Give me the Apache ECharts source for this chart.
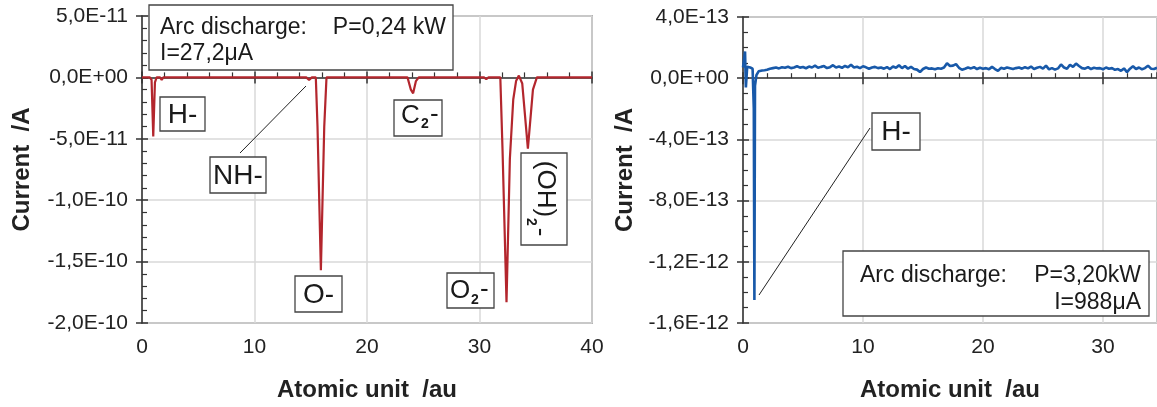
<!DOCTYPE html>
<html>
<head>
<meta charset="utf-8">
<script src="https://cdn.jsdelivr.net/npm/echarts@6/dist/echarts.min.js"></script>
<style>
html,body{margin:0;padding:0;background:#fff}
#main{width:1157px;height:407px}
</style>
</head>
<body>
<div id="main"></div>
<script>
// left spectrum, P=0,24 kW (current in 1E-12 A)
var leftX = [0, 0.7, 0.85, 1.0, 1.15, 1.3, 1.6, 1.75, 1.9, 5, 10, 14.6, 14.85, 15.1,
	15.45, 15.6, 15.9, 16.2, 16.4, 23.6, 23.9, 24.1, 24.35, 24.6, 30.4, 30.6, 30.8,
	31.85, 32.05, 32.4, 32.7, 33.0, 33.25, 33.5, 33.8, 34.3, 34.75, 35.1, 40];
var leftY = [0, 0, -2, -48, -4, 0, 0, -2, 0, 0, 0, 0, -2, 0,
	0, -40, -157, -40, 0, 0, -10, -13, -3, 0, 0, -1.5, 0,
	0, -60, -183, -66, -18, -3, 1.5, -5, -58, -10, 0, 0];

// right spectrum, P=3,20 kW (current in 1E-13 A)
var rightHeadX = [0, 0.1, 0.17, 0.24, 0.35, 0.6, 0.8, 0.9, 0.95, 1.0, 1.12, 1.3, 1.6, 1.8];
var rightHeadY = [0.7, 0.8, 1.75, -0.6, 0.75, 0.7, 0.62, -2, -14.5, -0.5, 0.2, 0.45, 0.5, 0.52];
var baseStart = 2, baseStep = 0.25;
var rightBaseY = [
	0.55, 0.62, 0.66, 0.7, 0.64, 0.72, 0.68, 0.75, 0.66, 0.7, 0.78, 0.69,
	0.73, 0.65, 0.76, 0.7, 0.82, 0.68, 0.74, 0.79, 0.66, 0.72, 0.85, 0.7,
	0.76, 0.68, 0.8, 0.72, 0.88, 0.7, 0.75, 0.66, 0.78, 0.71, 0.62, 0.7,
	0.74, 0.66, 0.7, 0.62, 0.72, 0.6, 0.76, 0.68, 0.85, 0.66, 0.8, 0.62,
	0.74, 0.6, 0.56, 0.4, 0.6, 0.7, 0.62, 0.64, 0.58, 0.65, 0.62, 0.7,
	0.98, 0.8, 0.82, 0.92, 0.68, 0.55, 0.62, 0.7, 0.64, 0.72, 0.6, 0.68,
	0.62, 0.66, 0.58, 0.74, 0.6, 0.48, 0.68, 0.62, 0.7, 0.65, 0.6, 0.66,
	0.7, 0.62, 0.72, 0.64, 0.76, 0.6, 0.68, 0.74, 0.62, 0.82, 0.58, 0.66,
	0.56, 0.64, 0.9, 0.7, 0.62, 0.88, 0.74, 0.96, 0.8, 0.66, 0.62, 0.72,
	0.6, 0.68, 0.64, 0.66, 0.58, 0.7, 0.62, 0.66, 0.55, 0.6, 0.48, 0.64,
	0.4, 0.62, 0.78, 0.6, 0.7, 0.58, 0.66, 0.82, 0.62, 0.6, 0.68
];

var FONT = '"Liberation Sans", Arial, sans-serif';
var AXIS = '#333';

var leftData = leftX.map(function(x, i) { return [x, leftY[i]]; });
var rightData = rightHeadX.map(function(x, i) { return [x, rightHeadY[i]]; });
rightBaseY.forEach(function(v, i) { rightData.push([baseStart + i * baseStep, v]); });

function sci(unit) {
	return function(v) {
		if (Math.abs(v) < 1e-9) return '0,0E+00';
		var p = (v * unit).toExponential(1).split('e');
		var e = parseInt(p[1], 10);
		return p[0].replace('.', ',') + 'E' + (e < 0 ? '-' : '+') + (Math.abs(e) < 10 ? '0' : '') + Math.abs(e);
	};
}

function xMain(g, max) {
	return {
		type: 'value', gridIndex: g, min: 0, max: max, interval: 10, position: 'bottom',
		name: 'Atomic unit  /au', nameLocation: 'middle', nameGap: 55,
		nameTextStyle: { fontFamily: FONT, fontSize: 24, fontWeight: 'bold', color: '#222' },
		axisLine: { lineStyle: { color: AXIS, width: 1.5 } },
		axisTick: { length: 6, lineStyle: { color: AXIS, width: 1.5 } },
		axisLabel: { fontFamily: FONT, fontSize: 21, color: '#222', margin: 14, showMaxLabel: max % 10 == 0 },
		splitLine: { lineStyle: { color: '#d8d8d8', width: 1.5 } }
	};
}
function xOver(g, max) {
	return {
		type: 'value', gridIndex: g, min: 0, max: max, interval: 10, position: 'bottom',
		axisLine: { show: false },
		axisTick: { inside: true, length: 6, lineStyle: { color: AXIS, width: 1.5 } },
		minorTick: { show: true, splitNumber: 5, length: 5, lineStyle: { color: AXIS, width: 1.2 } },
		axisLabel: { show: false }, splitLine: { show: false }
	};
}
function yMain(g, min, max, step, unit, gap) {
	return {
		type: 'value', gridIndex: g, min: min, max: max, interval: step, position: 'left',
		name: 'Current  /A', nameLocation: 'middle', nameGap: gap,
		nameTextStyle: { fontFamily: FONT, fontSize: 24, fontWeight: 'bold', color: '#222' },
		axisLine: { show: true, lineStyle: { color: AXIS, width: 1.5 } },
		axisTick: { show: true, length: 6, lineStyle: { color: AXIS, width: 1.5 } },
		axisLabel: { fontFamily: FONT, fontSize: 21, color: '#222', margin: 14, formatter: sci(unit) },
		splitLine: { lineStyle: { color: '#d8d8d8', width: 1.5 } }
	};
}
function yOver(g, min, max, step, minor) {
	return {
		type: 'value', gridIndex: g, min: min, max: max, interval: step, position: 'left',
		axisLine: { show: false },
		axisTick: { show: true, inside: true, length: 6, lineStyle: { color: AXIS, width: 1.5 } },
		minorTick: { show: true, splitNumber: minor, length: 5, lineStyle: { color: AXIS, width: 1.2 } },
		axisLabel: { show: false }, splitLine: { show: false }
	};
}

function box(x, y, w, h) {
	return { type: 'rect', shape: { x: x, y: y, width: w, height: h }, z: 100,
		style: { fill: '#fff', stroke: '#444', lineWidth: 1.3 } };
}
function txt(x, y, s, size, align, rot, bold) {
	return { type: 'text', x: x, y: y, rotation: rot || 0, z: 101,
		style: { text: s, fontFamily: FONT, fontSize: size, fill: '#1a1a1a',
			fontWeight: bold ? 'bold' : 'normal',
			textAlign: align || 'left', align: align || 'left',
			textVerticalAlign: 'middle', verticalAlign: 'middle' } };
}
function line(x1, y1, x2, y2) {
	return { type: 'line', shape: { x1: x1, y1: y1, x2: x2, y2: y2 }, z: 99,
		style: { stroke: '#222', lineWidth: 1 } };
}

var myChart = echarts.init(document.getElementById('main'));

var option = {
	backgroundColor: '#fff',
	animation: false,
	grid: [
		{ left: 142, right: 565, top: 16, bottom: 81, show: true, borderColor: '#777', borderWidth: 1.5, backgroundColor: 'transparent' },
		{ left: 743, right: 0, top: 17, bottom: 82, show: true, borderColor: '#777', borderWidth: 1.5, backgroundColor: 'transparent' }
	],
	xAxis: [xMain(0, 40), xMain(1, 34.5), xOver(0, 40), xOver(1, 34.5)],
	yAxis: [
		yMain(0, -200, 50, 50, 1e-12, 108),
		yMain(1, -16, 4, 4, 1e-13, 106),
		yOver(0, -200, 50, 50, 5),
		yOver(1, -16, 4, 4, 4)
	],
	series: [{
		type: 'line', xAxisIndex: 0, yAxisIndex: 0, data: leftData,
		showSymbol: false, lineStyle: { color: '#b3262d', width: 2.2 }
	}, {
		type: 'line', xAxisIndex: 1, yAxisIndex: 1, data: rightData,
		showSymbol: false, lineStyle: { color: '#1859a9', width: 2.6 }
	}],
	graphic: [
		// left annotations
		box(149, 5, 304, 65),
		txt(160, 28, 'Arc discharge:', 23),
		txt(446, 28, 'P=0,24 kW', 23, 'right'),
		txt(160, 54, 'I=27,2μA', 23),
		box(160, 97, 45, 34), txt(182.5, 115, 'H-', 28, 'center'),
		line(240, 153, 306, 86),
		box(210, 157, 56, 36), txt(238, 176, 'NH-', 28, 'center'),
		box(394, 100, 48, 36),
		txt(401, 116, 'C', 26), txt(421, 124, '2', 14, 'left', 0, true), txt(430, 115, '-', 26),
		box(295, 276, 47, 36), txt(318.5, 295, 'O-', 28, 'center'),
		box(447, 273, 47, 35),
		txt(450, 291, 'O', 26), txt(471, 300, '2', 14, 'left', 0, true), txt(480, 290, '-', 26),
		box(521, 153, 46, 92),
		txt(545, 189, '(OH)', 26, 'center', -Math.PI / 2),
		txt(531, 222, '2', 14, 'center', -Math.PI / 2, true),
		txt(540, 232, '-', 26, 'center', -Math.PI / 2),
		// right annotations
		line(870, 128, 759, 295),
		box(872, 113, 48, 37), txt(896, 132, 'H-', 28, 'center'),
		box(843, 251, 306, 65),
		txt(860, 276, 'Arc discharge:', 23),
		txt(1141, 276, 'P=3,20kW', 23, 'right'),
		txt(1141, 303, 'I=988μA', 23, 'right')
	]
};

myChart.setOption(option);
</script>
</body>
</html>
